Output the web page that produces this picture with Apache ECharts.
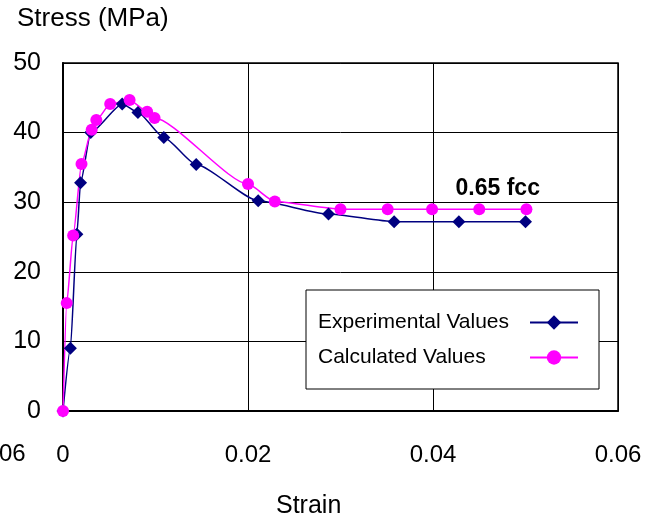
<!DOCTYPE html>
<html>
<head>
<meta charset="utf-8">
<script src="https://cdn.jsdelivr.net/npm/echarts@6/dist/echarts.min.js"></script>
<style>
  html, body { margin: 0; padding: 0; background: #fff; }
  #chart { width: 656px; height: 520px; }
</style>
</head>
<body>
<div id="chart"></div>
<script>
// strain / stress pairs
const experimental = [
  [0, 0], [0.0008, 9], [0.0015, 25.4], [0.0019, 32.8], [0.003, 40],
  [0.0064, 44.1], [0.0081, 42.9], [0.0109, 39.3], [0.0144, 35.4],
  [0.0211, 30.2], [0.0287, 28.3], [0.0358, 27.2], [0.0428, 27.2], [0.05, 27.2]
];
const calculated = [
  [0, 0], [0.0004, 15.5], [0.0011, 25.2], [0.002, 35.5], [0.0031, 40.4],
  [0.0036, 41.8], [0.0051, 44.1], [0.0072, 44.7], [0.0091, 43.0],
  [0.0099, 42.1], [0.02, 32.6], [0.0229, 30.1], [0.03, 29.0],
  [0.0351, 29.0], [0.0399, 29.0], [0.045, 29.0], [0.0501, 29.0]
];
const seriesNames = ['Experimental Values', 'Calculated Values'];
const noteText = '0.65 fcc';
const notePos = [0.047, 32];

const font = 'Arial, "Liberation Sans", sans-serif';

const chart = echarts.init(document.getElementById('chart'));

chart.setOption({
  animation: false,
  textStyle: { fontFamily: font, color: '#000' },
  title: [
    { text: 'Stress (MPa)', left: 12, top: 1,
      textStyle: { fontSize: 26, fontWeight: 'normal', color: '#000', fontFamily: font } },
    { text: 'Strain', left: 271, top: 489,
      textStyle: { fontSize: 25, fontWeight: 'normal', color: '#000', fontFamily: font } }
  ],
  grid: {
    left: 63, top: 63, right: 38, bottom: 109,
    show: true, borderColor: '#000', borderWidth: 1.5, backgroundColor: '#fff'
  },
  legend: {
    data: seriesNames,
    orient: 'vertical',
    left: 306, top: 290,
    align: 'right',
    padding: [22, 20, 21, 12],
    itemGap: 14,
    itemWidth: 48, itemHeight: 18,
    backgroundColor: '#fff',
    borderColor: '#000', borderWidth: 1,
    formatter: name => '{t|' + name + '}',
    textStyle: {
      color: '#000', fontFamily: font,
      rich: { t: { width: 207, align: 'left', fontSize: 21, lineHeight: 21, color: '#000', fontFamily: font } }
    }
  },
  xAxis: {
    type: 'value',
    min: 0, max: 0.06, interval: 0.02,
    axisLine: { lineStyle: { color: '#000', width: 2 } },
    axisTick: { show: false },
    axisLabel: { fontSize: 24, color: '#000', margin: 32, fontFamily: font },
    splitLine: { show: true, lineStyle: { color: '#000', width: 1 } }
  },
  yAxis: {
    type: 'value',
    min: 0, max: 50, interval: 10,
    axisLine: { show: true, lineStyle: { color: '#000', width: 2 } },
    axisTick: { show: false },
    axisLabel: { fontSize: 25, color: '#000', margin: 22, fontFamily: font },
    splitLine: { show: true, lineStyle: { color: '#000', width: 1 } }
  },
  graphic: [
    { type: 'text', left: -21, top: 442,
      style: { text: '0.06', fontSize: 24, fill: '#000', fontFamily: font } }
  ],
  series: [
    {
      name: seriesNames[0], type: 'line', data: experimental,
      smooth: 0.2, smoothMonotone: 'x',
      symbol: 'diamond', symbolSize: 13, showAllSymbol: true,
      lineStyle: { color: '#000080', width: 1.5 },
      itemStyle: { color: '#000080' }
    },
    {
      name: seriesNames[1], type: 'line', data: calculated,
      smooth: 0.2, smoothMonotone: 'x',
      symbol: 'circle', symbolSize: 12, showAllSymbol: true,
      lineStyle: { color: '#ff00ff', width: 1.5 },
      itemStyle: { color: '#ff00ff' },
      markPoint: {
        symbol: 'circle', symbolSize: 0,
        label: { show: true, position: 'inside', formatter: noteText,
          fontSize: 23, fontWeight: 'bold', color: '#000', fontFamily: font },
        data: [{ coord: notePos }]
      }
    }
  ]
});
</script>
</body>
</html>
